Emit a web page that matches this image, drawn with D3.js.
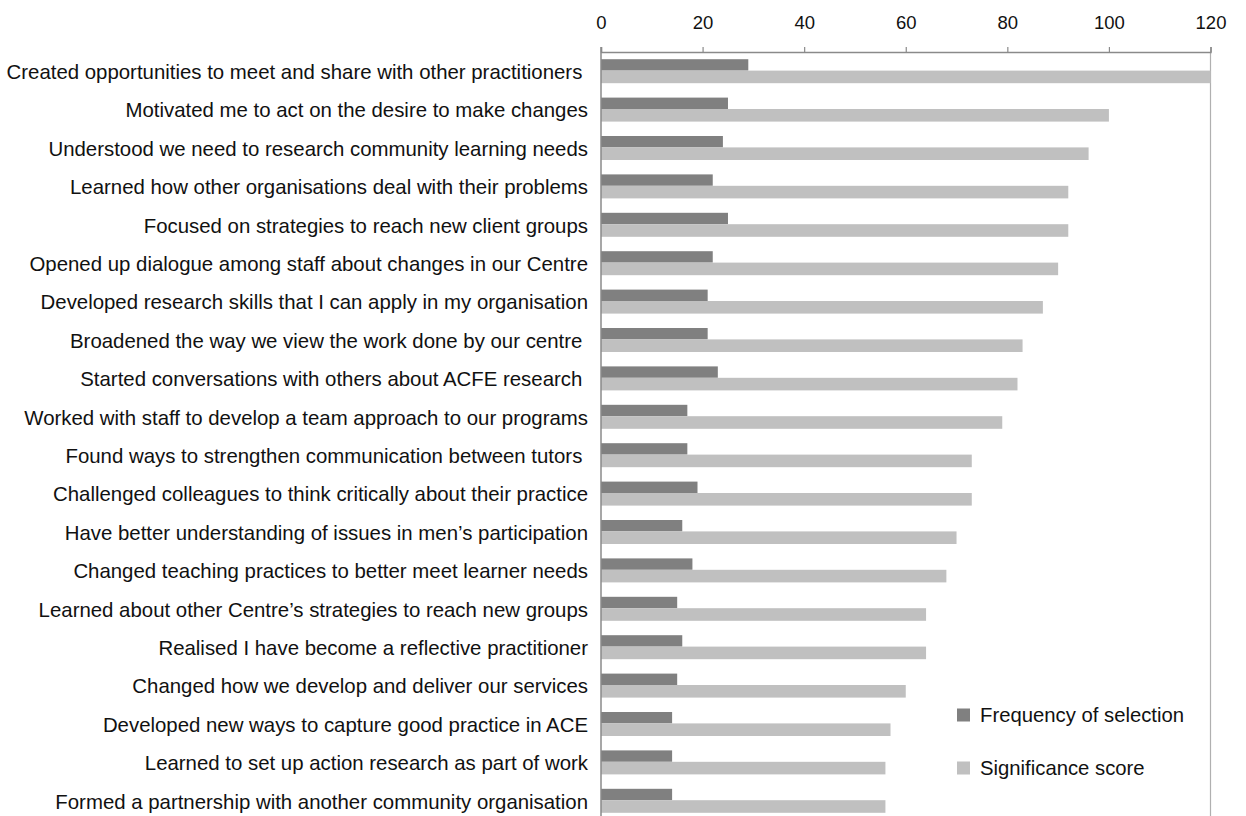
<!DOCTYPE html>
<html>
<head>
<meta charset="utf-8">
<script src="https://cdn.jsdelivr.net/npm/d3@7"></script>
<style>
  html, body { margin: 0; padding: 0; background: #fff; }
  svg { display: block; }
  text { font-family: "Liberation Sans", Arial, Helvetica, sans-serif; fill: #111; }
</style>
</head>
<body>
<svg id="chart" width="1246" height="816"></svg>
<script>
const categories = [
  "Created opportunities to meet and share with other practitioners ",
  "Motivated me to act on the desire to make changes",
  "Understood we need to research community learning needs",
  "Learned how other organisations deal with their problems",
  "Focused on strategies to reach new client groups",
  "Opened up dialogue among staff about changes in our Centre",
  "Developed research skills that I can apply in my organisation",
  "Broadened the way we view the work done by our centre ",
  "Started conversations with others about ACFE research ",
  "Worked with staff to develop a team approach to our programs",
  "Found ways to strengthen communication between tutors ",
  "Challenged colleagues to think critically about their practice",
  "Have better understanding of issues in men\u2019s participation",
  "Changed teaching practices to better meet learner needs",
  "Learned about other Centre\u2019s strategies to reach new groups",
  "Realised I have become a reflective practitioner",
  "Changed how we develop and deliver our services",
  "Developed new ways to capture good practice in ACE",
  "Learned to set up action research as part of work",
  "Formed a partnership with another community organisation"
];
const frequency = [29, 25, 24, 22, 25, 22, 21, 21, 23, 17, 17, 19, 16, 18, 15, 16, 15, 14, 14, 14];
const significance = [120, 100, 96, 92, 92, 90, 87, 83, 82, 79, 73, 73, 70, 68, 64, 64, 60, 57, 56, 56];
const seriesNames = ["Frequency of selection", "Significance score"];
const seriesColors = ["#808080", "#c0c0c0"];
const tickValues = [0, 20, 40, 60, 80, 100, 120];

const svg = d3.select("#chart");
const pLeft = 601, pRight = 1210.5, pTop = 52, pBottom = 820;

const x = d3.scaleLinear().domain([0, 120]).range([pLeft, pRight]);
const y = d3.scaleBand().domain(categories).range([pTop, pBottom])
  .paddingInner(0.375).paddingOuter(0.1875);
const sub = d3.scaleBand().domain([0, 1]).range([0, y.bandwidth()]);

// right border line
svg.append("line")
  .attr("x1", pRight).attr("x2", pRight).attr("y1", pTop).attr("y2", 816)
  .attr("stroke", "#b0b0b0").attr("stroke-width", 1.2);

// bars
const rows = svg.append("g").selectAll("g").data(categories).join("g")
  .attr("transform", d => `translate(0,${y(d)})`);
rows.append("rect")
  .attr("x", x(0)).attr("y", sub(0))
  .attr("width", (d, i) => x(frequency[i]) - x(0))
  .attr("height", sub.bandwidth() - 0.6)
  .attr("fill", seriesColors[0]);
rows.append("rect")
  .attr("x", x(0)).attr("y", sub(1) - 0.6)
  .attr("width", (d, i) => x(significance[i]) - x(0))
  .attr("height", sub.bandwidth() + 0.6)
  .attr("fill", seriesColors[1]);

// top axis
const axis = d3.axisTop(x).tickValues(tickValues).tickSize(5).tickPadding(18);
const gA = svg.append("g").attr("transform", `translate(0,${pTop})`).call(axis);
gA.select(".domain").attr("stroke", "#8a8a8a").attr("stroke-width", 1.5);
gA.selectAll(".tick line").attr("stroke", "#8a8a8a").attr("stroke-width", 1.2);
gA.selectAll(".tick text")
  .style("font-family", '"Liberation Sans", Arial, sans-serif')
  .style("font-size", "18.5px").attr("fill", "#111");

// left axis line
svg.append("line")
  .attr("x1", pLeft).attr("x2", pLeft).attr("y1", pTop - 5).attr("y2", 816)
  .attr("stroke", "#8a8a8a").attr("stroke-width", 1.5);

// category labels
svg.append("g").selectAll("text").data(categories).join("text")
  .attr("x", 588)
  .attr("y", d => y(d) + y.bandwidth() / 2)
  .attr("dy", "0.38em")
  .attr("text-anchor", "end")
  .style("white-space", "pre")
  .style("font-size", "20.4px")
  .text(d => d);

// legend
const legend = svg.append("g").selectAll("g").data(seriesNames).join("g")
  .attr("transform", (d, i) => `translate(957,${715 + i * 53})`);
legend.append("rect")
  .attr("x", 0).attr("y", -6.5).attr("width", 13).attr("height", 13)
  .attr("fill", (d, i) => seriesColors[i]);
legend.append("text")
  .attr("x", 23).attr("y", 0).attr("dy", "0.36em")
  .style("font-size", "20.3px")
  .text(d => d);
</script>
</body>
</html>
